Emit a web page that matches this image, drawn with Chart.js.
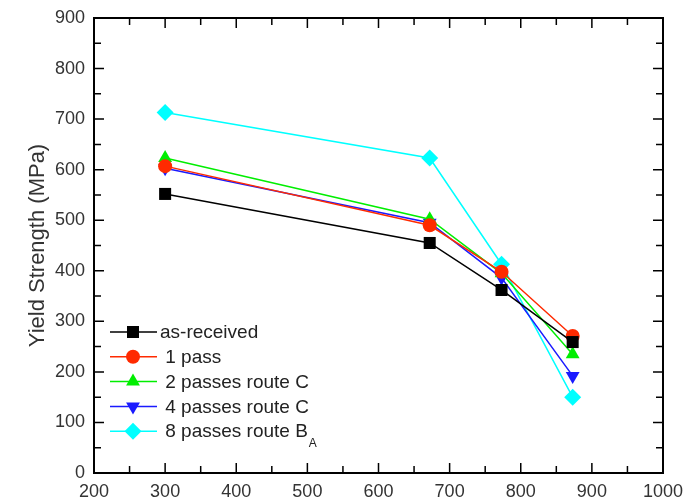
<!DOCTYPE html>
<html>
<head>
<meta charset="utf-8">
<script src="https://cdn.jsdelivr.net/npm/chart.js@4.4.0/dist/chart.umd.min.js"></script>
<style>
  html, body { margin: 0; padding: 0; background: #fff; }
  #wrap { width: 693px; height: 501px; }
</style>
</head>
<body>
<div id="wrap"><canvas id="myChart"></canvas></div>
<script>
// temperatures (x) and yield strength values
const temps = [300, 672, 773, 873];
const asReceived = [552, 455, 362, 259];
const onePass = [607, 490, 398, 271];
const twoPassC = [623, 502, 395, 235];
const fourPassC = [603, 495, 386, 192];
const eightPassBA = [713, 623, 413, 150];

const seriesNames = ['as-received', ' 1 pass', ' 2 passes route C', ' 4 passes route C', ' 8 passes route B'];
const seriesColors = ['#000000', '#ff2a00', '#00ee00', '#1a1aff', '#00ffff'];
const seriesStyles = ['rect', 'circle', 'triangle', 'triangle', 'rectRot'];
const seriesRot = [0, 0, 0, 180, 0];
const seriesRadius = [8.5, 7, 8, 8, 8.5];

const FONT = '"Liberation Sans", Arial, sans-serif';

function toPoints(ys) {
  return temps.map((t, i) => ({ x: t, y: ys[i] }));
}

const allValues = [asReceived, onePass, twoPassC, fourPassC, eightPassBA];

var datasets = allValues.map((vals, i) => ({
  label: seriesNames[i],
  data: toPoints(vals),
  showLine: true,
  borderColor: seriesColors[i],
  backgroundColor: seriesColors[i],
  borderWidth: 1.5,
  pointStyle: seriesStyles[i],
  rotation: seriesRot[i],
  pointRadius: seriesRadius[i],
  pointBorderWidth: 0,
  order: i
}));

const frame = {
  id: 'frame',
  afterDraw(chart) {
    const { ctx, chartArea: { top, right, bottom, left } } = chart;
    const xs = chart.scales.x, ys = chart.scales.y;
    ctx.save();
    ctx.strokeStyle = '#000';
    ctx.lineWidth = 2;
    ctx.strokeRect(left, top, right - left, bottom - top);
    ctx.lineWidth = 1.5;
    ctx.beginPath();
    for (let v = 200; v <= 1000; v += 50) {
      const px = xs.getPixelForValue(v);
      const len = v % 100 === 0 ? 10 : 7;
      ctx.moveTo(px, bottom); ctx.lineTo(px, bottom - len);
      ctx.moveTo(px, top); ctx.lineTo(px, top + len);
    }
    for (let v = 0; v <= 900; v += 50) {
      const py = ys.getPixelForValue(v);
      const len = v % 100 === 0 ? 10 : 7;
      ctx.moveTo(left, py); ctx.lineTo(left + len, py);
      ctx.moveTo(right, py); ctx.lineTo(right - len, py);
    }
    ctx.stroke();

    // legend with line + marker symbols
    ctx.font = '19px ' + FONT;
    ctx.textBaseline = 'middle';
    ctx.textAlign = 'left';
    const rowY = 332;
    datasets.forEach((d, i) => {
      const y = rowY + i * 24.8;
      ctx.strokeStyle = d.borderColor;
      ctx.lineWidth = 1.5;
      ctx.beginPath();
      ctx.moveTo(110, y); ctx.lineTo(157, y);
      ctx.stroke();
      ctx.fillStyle = d.backgroundColor;
      Chart.helpers.drawPoint(ctx, {
        pointStyle: d.pointStyle, rotation: d.rotation,
        radius: d.pointRadius, borderWidth: 0
      }, 133, y);
      ctx.fillStyle = '#222';
      ctx.fillText(d.label, 160, y + 1);
      if (i === 4) {
        const w = ctx.measureText(d.label).width;
        ctx.font = '12px ' + FONT;
        ctx.fillText('A', 160 + w + 1, y + 12);
        ctx.font = '19px ' + FONT;
      }
    });
    ctx.restore();
  }
};

var myChart = new Chart(document.getElementById('myChart'), {
  type: 'scatter',
  data: { datasets: datasets },
  options: {
    responsive: true,
    maintainAspectRatio: false,
    animation: false,
    layout: { padding: { top: 18, right: 30, left: 25, bottom: 0 } },
    plugins: {
      legend: { display: false },
      tooltip: { enabled: false }
    },
    scales: {
      x: {
        type: 'linear',
        min: 200,
        max: 1000,
        afterFit(scale) { scale.height = 28; },
        grid: { display: false },
        border: { display: false },
        ticks: {
          stepSize: 100,
          padding: 0,
          color: '#333',
          callback: (v) => String(v),
          font: { size: 18, family: FONT }
        }
      },
      y: {
        min: 0,
        max: 900,
        afterFit(scale) { scale.width = 69; },
        grid: { display: false },
        border: { display: false },
        ticks: {
          stepSize: 100,
          padding: 1,
          color: '#333',
          font: { size: 18, family: FONT }
        },
        title: {
          display: true,
          text: 'Yield Strength (MPa)',
          color: '#333',
          padding: { top: 0, bottom: 0 },
          font: { size: 22, family: FONT }
        }
      }
    }
  },
  plugins: [frame]
});
</script>
</body>
</html>
